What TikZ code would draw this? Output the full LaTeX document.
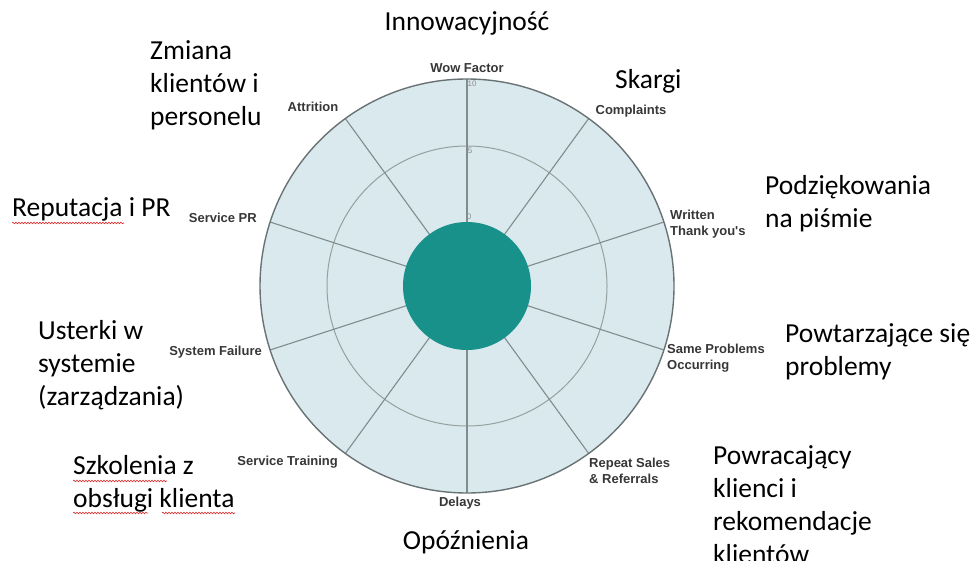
\documentclass[tikz,border=0pt]{standalone}
\usepackage{fontspec}
\setmainfont{Carlito}
\newfontfamily\labelfont{Liberation Sans}
\usetikzlibrary{calc,decorations.pathmorphing}
\definecolor{wheelfill}{RGB}{218,233,237}
\definecolor{hubteal}{RGB}{24,145,138}
\definecolor{rimgray}{RGB}{105,114,116}
\definecolor{spokegray}{RGB}{128,140,142}
\definecolor{ringgray}{RGB}{150,160,160}
\definecolor{labelgray}{RGB}{55,55,55}
\definecolor{tickgray}{RGB}{140,140,140}
\definecolor{spellred}{RGB}{220,40,40}
\begin{document}
\begin{tikzpicture}[x=1pt,y=-1pt,
  pl/.style={inner sep=0pt,font=\fontsize{27.5}{33}\selectfont,text=black,align=left},
  en/.style={inner sep=0pt,font=\labelfont\bfseries\fontsize{13}{16}\selectfont,text=labelgray,align=left},
  tick/.style={inner sep=0pt,font=\labelfont\fontsize{8}{9}\selectfont,text=tickgray},
  spokeline/.style={draw=spokegray,line width=1.1pt},
  spell/.style={draw=spellred,line width=0.6pt,decorate,decoration={snake,segment length=3pt,amplitude=0.8pt}}]
\useasboundingbox (0,0) rectangle (973,561);
\fill[white] (0,0) rectangle (973,561);

% wheel
\coordinate (c) at (467,286);
\fill[wheelfill] (c) circle[radius=207pt];
\draw[ringgray,line width=1pt] (c) circle[radius=140pt];
\foreach \a in {90,54,18,-18,-54,-90,-126,-162,162,126}
  \draw[spokeline] (c) -- ($(c)+(\a:207pt)$);
\draw[rimgray,line width=1.4pt] (c) circle[radius=207pt];
\fill[hubteal] (c) circle[radius=64pt];

% scale marks
\node[tick] (t10) at (472,84) {10};
\node[tick] (t5) at (470,151) {5};
\node[tick] (t0) at (469,217) {0};

% spoke names
\node[en] (wow) at (467,68) {Wow Factor};
\node[en] (attr) at (313,107) {Attrition};
\node[en] (compl) at (631,111) {Complaints};
\node[en,anchor=west] (thank) at (670,224) {Written\\Thank you's};
\node[en,anchor=west] (same) at (667,358) {Same Problems\\Occurring};
\node[en,anchor=west] (repeat) at (589,471) {Repeat Sales\\\& Referrals};
\node[en] (delays) at (460,503) {Delays};
\node[en,anchor=east] (train) at (338,462) {Service Training};
\node[en,anchor=east] (fail) at (262,352) {System Failure};
\node[en,anchor=east] (pr) at (257,218) {Service PR};

% Polish descriptions
\node[pl,anchor=base] (inn) at (467,31) {Innowacyjność};
\node[pl,anchor=north west] (zm) at (150,40) {Zmiana\\klientów i\\personelu};
\node[pl,anchor=base west] (sk) at (615,89) {Skargi};
\node[pl,anchor=north west] (pod) at (765,175) {Podziękowania\\na piśmie};
\node[pl,anchor=base west] (rep) at (12,216) {Reputacja i PR};
\node[pl,anchor=north west] (pow) at (785,323) {Powtarzające się\\problemy};
\node[pl,anchor=north west] (ust) at (38,320) {Usterki w\\systemie\\(zarządzania)};
\node[pl,anchor=north west] (szk) at (73,455) {Szkolenia z\\obsługi klienta};
\node[pl,anchor=north west] (wr) at (713,445) {Powracający\\klienci i\\rekomendacje\\klientów};
\node[pl,anchor=base] (opo) at (466,549) {Opóźnienia};

% spelling marks
\draw[spell] (12,223) -- (124,223);
\draw[spell] (73,481) -- (167,481);
\draw[spell] (73,513) -- (148,513);
\draw[spell] (162,513) -- (235,513);
\end{tikzpicture}
\end{document}
